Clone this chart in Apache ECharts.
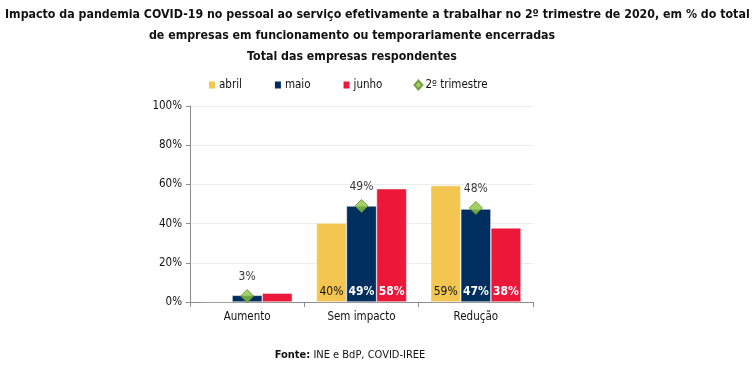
<!DOCTYPE html>
<html><head><meta charset="utf-8">
<script src="https://cdn.jsdelivr.net/npm/echarts@6/dist/echarts.min.js"></script>
<style>html,body{margin:0;padding:0;background:#fff}#c{width:756px;height:366px}</style>
</head><body><div id="c"></div>
<script>
var categories = ['Aumento', 'Sem impacto', 'Redução'];
var abril = [0.3, 40.3, 59.4];
var maio = [3.4, 49.0, 47.4];
var junho = [4.5, 57.8, 37.8];
var trimestre = [3, 49, 48];
var yTicks = [0, 20, 40, 60, 80, 100];

var FONT = 'DejaVu Sans Condensed';
var chart = echarts.init(document.getElementById('c'));
function barLabel(color, bold) {
  return {
    show: true, position: 'insideBottom', distance: 4,
    color: color, fontFamily: FONT, fontSize: 12, fontWeight: bold ? 'bold' : 'normal',
    formatter: function (p) { return p.dataIndex === 0 ? '' : Math.round(p.value) + '%'; }
  };
}
var titleStyle = { fontSize: 12.3, fontWeight: 'bold', color: '#111', fontFamily: FONT };
chart.setOption({
  animation: false,
  textStyle: { fontFamily: FONT },
  title: [
    { text: 'Impacto da pandemia COVID-19 no pessoal ao serviço efetivamente a trabalhar no 2º trimestre de 2020, em % do total',
      left: 0, top: 4, textStyle: titleStyle },
    { text: 'de empresas em funcionamento ou temporariamente encerradas',
      left: 347, top: 25, textAlign: 'center', textStyle: titleStyle },
    { text: 'Total das empresas respondentes',
      left: 347, top: 46, textAlign: 'center', textStyle: titleStyle },
    { text: '{b|Fonte:} {n|INE e BdP, COVID-IREE}',
      left: 345, top: 345, textAlign: 'center',
      textStyle: { fontSize: 11, fontWeight: 'normal', color: '#111', fontFamily: FONT,
        rich: { b: { fontWeight: 'bold', fontSize: 11, color: '#111', fontFamily: FONT },
                n: { fontWeight: 'normal', fontSize: 11, color: '#111', fontFamily: FONT } } } }
  ],
  legend: {
    left: 202, top: 74, itemWidth: 8, itemHeight: 9, itemGap: 31,
    textStyle: { fontSize: 11.5, color: '#111', fontFamily: FONT, padding: [0, 0, 0, -2] },
    data: [
      { name: 'abril', icon: 'rect' },
      { name: 'maio', icon: 'rect' },
      { name: 'junho', icon: 'rect' },
      { name: '2º trimestre', icon: 'diamond' }
    ]
  },
  grid: { left: 190, right: 223, top: 106, bottom: 64 },
  xAxis: {
    type: 'category', data: categories,
    axisLine: { lineStyle: { color: '#8c8c8c', width: 1 } },
    axisTick: { show: true, length: 5, lineStyle: { color: '#8c8c8c' } },
    axisLabel: { fontSize: 11.5, color: '#111', margin: 9, fontFamily: FONT }
  },
  yAxis: {
    type: 'value', min: 0, max: 100, interval: 20,
    axisLine: { show: true, lineStyle: { color: '#8c8c8c' } },
    axisTick: { show: true, length: 4, lineStyle: { color: '#8c8c8c' } },
    splitLine: { lineStyle: { color: '#ececec' } },
    axisLabel: { fontSize: 11.5, color: '#111', margin: 8, fontFamily: FONT,
      formatter: function (v) { return yTicks.indexOf(v) >= 0 ? v + '%' : ''; } }
  },
  series: [
    { name: 'abril', type: 'bar', data: abril, barGap: '0%', barCategoryGap: '21%',
      itemStyle: { color: '#F2C651', borderColor: '#fff', borderWidth: 0.5 }, label: barLabel('#111', false) },
    { name: 'maio', type: 'bar', data: maio,
      itemStyle: { color: '#002F5F', borderColor: '#fff', borderWidth: 0.5 }, label: barLabel('#ffffff', true) },
    { name: 'junho', type: 'bar', data: junho,
      itemStyle: { color: '#EB1839', borderColor: '#fff', borderWidth: 0.5 }, label: barLabel('#ffffff', true) },
    { name: '2º trimestre', type: 'scatter', data: trimestre, symbol: 'diamond', symbolSize: 13, z: 5,
      itemStyle: { color: '#8CC63F', borderColor: '#5E8E2A', borderWidth: 1 },
      label: { show: true, position: 'top', distance: 6, fontSize: 12, color: '#000', fontFamily: FONT,
        formatter: function (p) { return p.value + '%'; } },
      emphasis: { disabled: true } }
  ]
});
</script></body></html>
